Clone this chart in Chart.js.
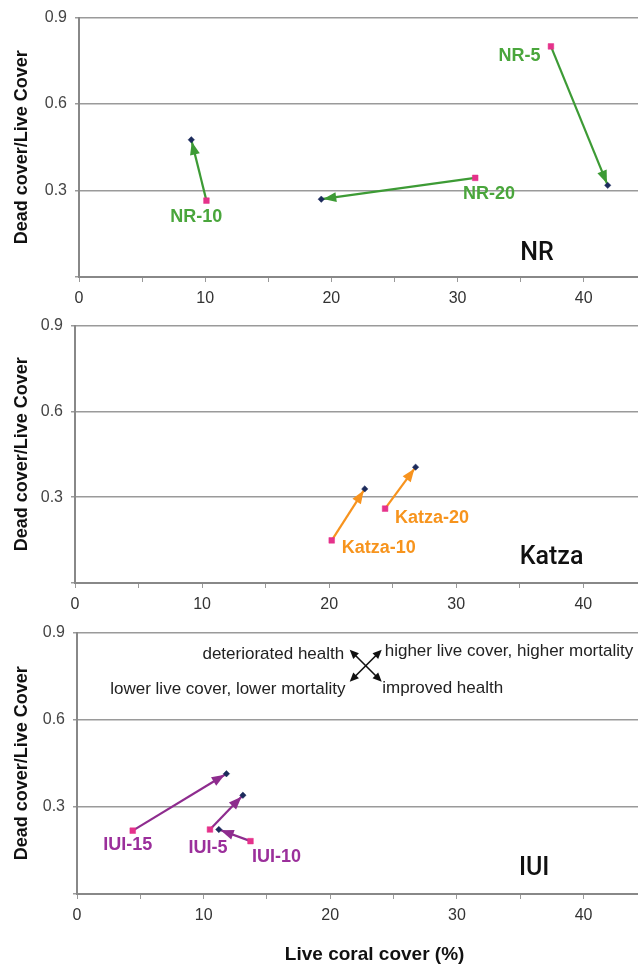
<!DOCTYPE html>
<html>
<head>
<meta charset="utf-8">
<script src="https://cdn.jsdelivr.net/npm/chart.js@4.4.1/dist/chart.umd.min.js"></script>
<style>
    body { margin: 0; background: #fff; width: 638px; height: 967px; position: relative; overflow: hidden; }
    .panel { position: absolute; left: 0; width: 638px; }
</style>
</head>
<body>
<div class="panel" style="top:0;height:308px"><canvas id="chartNR"></canvas></div>
<div class="panel" style="top:308px;height:307px"><canvas id="chartKatza"></canvas></div>
<div class="panel" style="top:615px;height:352px"><canvas id="chartIUI"></canvas></div>
<script>
// values: first survey (square) -> second survey (diamond)
const xTicks = [0, 5, 10, 15, 20, 25, 30, 35, 40];
const yTicks = [0, 0.3, 0.6, 0.9];

const nrLabels = ['NR-5', 'NR-20', 'NR-10'];
const nrStartX = [37.4, 31.4, 10.1];
const nrStartY = [0.80, 0.344, 0.265];
const nrEndX = [41.9, 19.2, 8.9];
const nrEndY = [0.318, 0.270, 0.476];

const katzaLabels = ['Katza-10', 'Katza-20'];
const katzaStartX = [20.2, 24.4];
const katzaStartY = [0.149, 0.26];
const katzaEndX = [22.8, 26.8];
const katzaEndY = [0.329, 0.405];

const iuiLabels = ['IUI-15', 'IUI-5', 'IUI-10'];
const iuiStartX = [4.4, 10.5, 13.7];
const iuiStartY = [0.218, 0.222, 0.182];
const iuiEndX = [11.8, 13.1, 11.2];
const iuiEndY = [0.414, 0.34, 0.222];

// where the text tags sit (data units)
const nrTagPos = [[34.9, 0.767], [32.5, 0.287], [9.3, 0.208]];
const katzaTagPos = [[23.9, 0.122], [28.1, 0.228]];
const iuiTagPos = [[4.0, 0.167], [10.35, 0.159], [15.75, 0.127]];

const FONT = "'Liberation Sans', Arial, sans-serif";

function arrowHead(ctx, x0, y0, x1, y1, len, half, color) {
    var a = Math.atan2(y1 - y0, x1 - x0);
    ctx.save();
    ctx.translate(x1, y1);
    ctx.rotate(a);
    ctx.fillStyle = color;
    ctx.beginPath();
    ctx.moveTo(0, 0);
    ctx.lineTo(-len, -half);
    ctx.lineTo(-len, half);
    ctx.closePath();
    ctx.fill();
    ctx.restore();
}

const pairArrows = {
    id: 'pairArrows',
    beforeDatasetsDraw(chart, args, opts) {
        const ctx = chart.ctx;
        chart.data.datasets.forEach((ds, i) => {
            const pts = chart.getDatasetMeta(i).data;
            const a = pts[0], b = pts[1];
            const d = Math.hypot(b.x - a.x, b.y - a.y);
            const ux = (b.x - a.x) / d, uy = (b.y - a.y) / d;
            arrowHead(ctx, a.x, a.y, b.x - ux * 2, b.y - uy * 2, 13, 5, ds.borderColor);
        });
    },
    afterDatasetsDraw(chart, args, opts) {
        const ctx = chart.ctx;
        const sx = chart.scales.x, sy = chart.scales.y;
        ctx.save();
        ctx.textBaseline = 'middle';
        (opts.tags || []).forEach(t => {
            ctx.font = t.font;
            ctx.fillStyle = t.color;
            ctx.textAlign = t.align || 'center';
            ctx.fillText(t.text, sx.getPixelForValue(t.x), sy.getPixelForValue(t.y));
        });
        if (opts.xTitle) {
            // axis caption sits a little right of the axis centre in the original
            ctx.font = 'bold 19px ' + FONT;
            ctx.fillStyle = '#111';
            ctx.textAlign = 'center';
            ctx.fillText(opts.xTitle.text, sx.getPixelForValue(opts.xTitle.x), chart.height - 12);
        }
        if (opts.cross) {
            const cx = sx.getPixelForValue(opts.cross.x), cy = sy.getPixelForValue(opts.cross.y);
            const r = 16;
            ctx.strokeStyle = '#111';
            ctx.lineWidth = 1.6;
            [[-1, -1], [1, -1]].forEach(([dx, dy]) => {
                ctx.beginPath();
                ctx.moveTo(cx - dx * (r - 5), cy - dy * (r - 5));
                ctx.lineTo(cx + dx * (r - 5), cy + dy * (r - 5));
                ctx.stroke();
                arrowHead(ctx, cx, cy, cx + dx * r, cy + dy * r, 9, 4, '#111');
                arrowHead(ctx, cx, cy, cx - dx * r, cy - dy * r, 9, 4, '#111');
            });
        }
        ctx.restore();
    }
};

function buildPanel(id, labels, startX, startY, endX, endY, tagPos, color, tagColor, site, layout) {
    const datasets = labels.map((lab, i) => ({
        label: lab,
        data: [{x: startX[i], y: startY[i]}, {x: endX[i], y: endY[i]}],
        showLine: true,
        borderColor: color,
        borderWidth: 2.2,
        pointStyle: ['rect', 'rectRot'],
        pointRadius: [4, 3.2],
        pointBackgroundColor: ['#e5328b', '#1c2b5c'],
        pointBorderColor: ['#e5328b', '#1c2b5c'],
        pointBorderWidth: 0.5
    }));
    const tags = labels.map((lab, i) => ({
        text: lab, x: tagPos[i][0], y: tagPos[i][1], color: tagColor, font: 'bold 18px ' + FONT
    }));
    tags.push({text: site.name, x: site.x, y: site.y, color: '#111', font: '500 25px Roboto, ' + FONT});
    (layout.notes || []).forEach(n => tags.push(Object.assign({color: '#222', font: '17px ' + FONT}, n)));

    return new Chart(document.getElementById(id), {
        type: 'scatter',
        data: { datasets: datasets },
        options: {
            animation: false,
            responsive: true,
            maintainAspectRatio: false,
            layout: { autoPadding: false, padding: { top: layout.top, right: 0, left: 0, bottom: 0 } },
            plugins: {
                legend: { display: false },
                tooltip: { enabled: false },
                pairArrows: { tags: tags, cross: layout.cross, xTitle: layout.xTitle }
            },
            scales: {
                x: {
                    type: 'linear',
                    min: 0,
                    max: 44.3,
                    afterBuildTicks: s => { s.ticks = xTicks.map(v => ({value: v})); },
                    afterFit: s => { s.height = layout.xh; },
                    border: { color: '#888', width: 2 },
                    grid: { drawOnChartArea: false, drawTicks: true, tickLength: 5, color: '#999', lineWidth: 1 },
                    ticks: {
                        padding: 7,
                        color: '#333',
                        font: { family: FONT, size: 16 },
                        maxRotation: 0,
                        callback: v => (v % 10 === 0 ? v : '')
                    }
                },
                y: {
                    min: 0,
                    max: 0.9,
                    afterBuildTicks: s => { s.ticks = yTicks.map(v => ({value: v})); },
                    afterFit: s => { s.width = layout.yw; },
                    border: { color: '#888', width: 2 },
                    grid: { color: '#9a9a9a', lineWidth: 1.5, tickLength: 4 },
                    ticks: {
                        padding: 8,
                        color: '#444',
                        font: { family: FONT, size: 16 },
                        callback: v => (v === 0 ? '' : v.toFixed(1))
                    },
                    title: {
                        display: true,
                        text: 'Dead cover/Live Cover',
                        color: '#111',
                        font: { family: FONT, size: 18, weight: 'bold' },
                        padding: { top: 11, bottom: 0 }
                    }
                }
            }
        },
        plugins: [pairArrows]
    });
}

buildPanel('chartNR', nrLabels, nrStartX, nrStartY, nrEndX, nrEndY, nrTagPos,
    '#3d9b35', '#4aa63c', {name: 'NR', x: 36.3, y: 0.082},
    {top: 14, xh: 31, yw: 79});

buildPanel('chartKatza', katzaLabels, katzaStartX, katzaStartY, katzaEndX, katzaEndY, katzaTagPos,
    '#f7931e', '#f7941d', {name: 'Katza', x: 37.5, y: 0.088},
    {top: 9, xh: 32, yw: 75});

buildPanel('chartIUI', iuiLabels, iuiStartX, iuiStartY, iuiEndX, iuiEndY, iuiTagPos,
    '#8e2c8e', '#9b2f9b', {name: 'IUI', x: 36.1, y: 0.0875},
    {top: 15, xh: 73, yw: 77,
     xTitle: {text: 'Live coral cover (%)', x: 23.5},
     cross: {x: 22.8, y: 0.786},
     notes: [
        {text: 'deteriorated health', x: 21.1, y: 0.826, align: 'right'},
        {text: 'higher live cover, higher mortality', x: 24.3, y: 0.834, align: 'left'},
        {text: 'lower live cover, lower mortality', x: 21.2, y: 0.705, align: 'right'},
        {text: 'improved health', x: 24.1, y: 0.709, align: 'left'}
     ]});
</script>
</body>
</html>
